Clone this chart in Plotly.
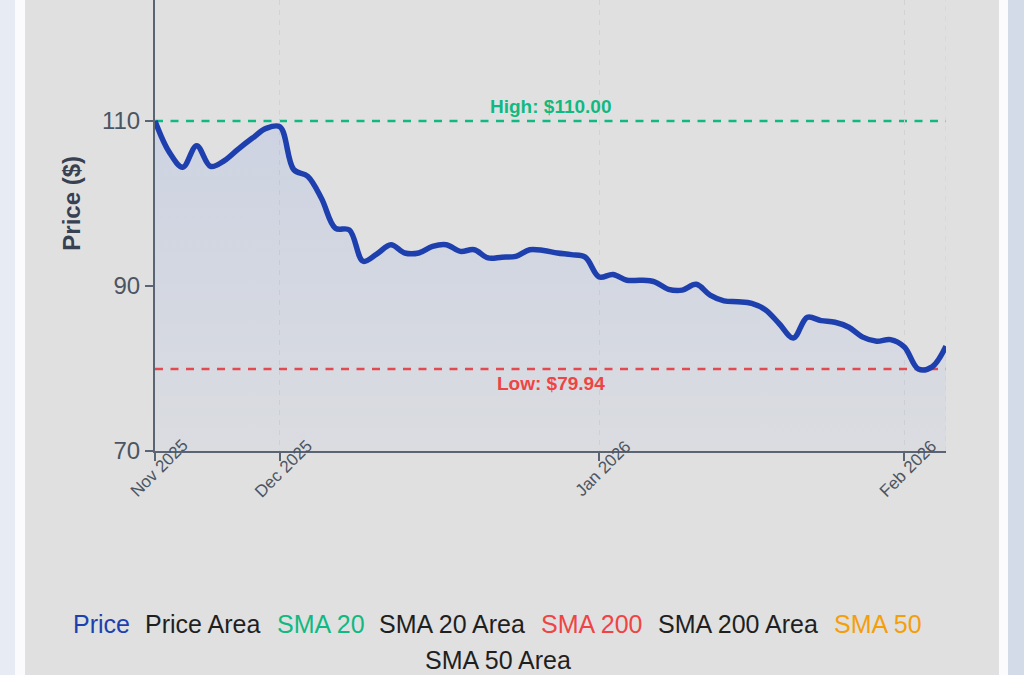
import pandas as pd
import plotly.graph_objects as go

# ---------------- data ----------------
dates = pd.bdate_range("2025-11-18", "2026-02-05")  # trading days (weekdays)
price = [
    110.00, 106.3, 104.4, 107.0, 104.5, 105.2, 106.6, 107.9, 109.1, 109.3,
    104.1, 103.3, 100.6, 97.0, 96.8, 93.0, 93.9, 95.0, 94.0, 94.0,
    94.8, 95.0, 94.2, 94.4, 93.4, 93.5, 93.6, 94.4, 94.3, 94.0,
    93.8, 93.5, 91.1, 91.4, 90.7, 90.7, 90.5, 89.6, 89.5, 90.2,
    88.9, 88.2, 88.1, 87.9, 87.1, 85.4, 83.7, 86.2, 85.8, 85.6,
    85.0, 83.8, 83.3, 83.5, 82.6, 79.94, 80.2, 82.7,
]
y_ticks = [70, 90, 110]
x_tick_dates = ["2025-11-18", "2025-12-01", "2026-01-01", "2026-02-02"]
x_tick_text = ["Nov 2025", "Dec 2025", "Jan 2026", "Feb 2026"]
legend_names = ["Price", "Price Area", "SMA 20", "SMA 20 Area",
                "SMA 200", "SMA 200 Area", "SMA 50", "SMA 50 Area"]
legend_colors = ["#1e40af", "#1f1f1f", "#10b981", "#1f1f1f",
                 "#ef4444", "#1f1f1f", "#f59e0b", "#1f1f1f"]
y_title = "Price ($)"

high_val = max(price)
low_val = min(price)

# ---------------- layout geometry ----------------
W, H = 1024, 675
ML, MR, MT, MB = 155, 78, 0, 224
PW = W - ML - MR
PH = H - MT - MB


def px_x(px):
    return (px - ML) / PW


def px_y(py):
    return (MT + PH - py) / PH


FONT = "Liberation Sans, Arial, sans-serif"
AXIS_COLOR = "#5b6472"
TICK_TEXT = "#4b5563"
GRID = "#d3d3d3"

fig = go.Figure()

fig.add_trace(go.Scatter(
    x=dates, y=price, mode="lines", name="Price Area",
    line=dict(width=0, shape="spline"),
    fill="tozeroy",
    fillgradient=dict(type="vertical",
                      colorscale=[[0, "rgba(97,137,237,0.045)"],
                                  [1, "rgba(97,137,237,0.15)"]],
                      start=70, stop=110),
    showlegend=False, hoverinfo="skip",
))
fig.add_trace(go.Scatter(
    x=dates, y=price, mode="lines", name="Price",
    line=dict(color="#1e40af", width=5.5, shape="spline"),
    showlegend=False,
))

shapes = []
# page background strips
for x0, x1, col in [(-5, 15, "#e6ebf4"), (15, 25, "#fbfbfd"),
                    (999, 1008, "#fbfbfd"), (1008, 1030, "#d3dae8")]:
    shapes.append(dict(type="rect", xref="paper", yref="paper",
                       x0=px_x(x0), x1=px_x(x1), y0=px_y(H + 5), y1=px_y(-5),
                       fillcolor=col, line=dict(width=0), layer="below"))
# high / low reference lines
shapes.append(dict(type="line", xref="paper", yref="y", x0=0, x1=1,
                   y0=high_val, y1=high_val, layer="below",
                   line=dict(color="#10b981", width=2.5, dash="8px,7.5px")))
shapes.append(dict(type="line", xref="paper", yref="y", x0=0, x1=1,
                   y0=low_val, y1=low_val, layer="below",
                   line=dict(color="#ef4444", width=2.5, dash="8px,7.5px")))
# right edge grid line
shapes.append(dict(type="line", xref="x", yref="paper",
                   x0=dates[-1], x1=dates[-1], y0=0, y1=1, layer="below",
                   line=dict(color=GRID, width=1, dash="5px,5px")))

annotations = []
annotations.append(dict(xref="paper", yref="y", x=0.5, y=high_val, yshift=15,
                        text=f"<b>High: ${high_val:.2f}</b>", showarrow=False,
                        xanchor="center", yanchor="middle",
                        font=dict(family=FONT, size=19, color="#10b981")))
annotations.append(dict(xref="paper", yref="y", x=0.5, y=low_val, yshift=-14,
                        text=f"<b>Low: ${low_val:.2f}</b>", showarrow=False,
                        xanchor="center", yanchor="middle",
                        font=dict(family=FONT, size=19, color="#ef4444")))
annotations.append(dict(xref="paper", yref="paper", x=px_x(71.7), y=px_y(203),
                        text=f"<b>{y_title}</b>", showarrow=False, textangle=-90,
                        xanchor="center", yanchor="middle",
                        font=dict(family=FONT, size=24, color="#374151")))
for d, t in zip(x_tick_dates, x_tick_text):
    annotations.append(dict(xref="x", yref="paper", x=d, y=px_y(468.5), xshift=4,
                            text=t, showarrow=False, textangle=-45,
                            xanchor="center", yanchor="middle",
                            font=dict(family=FONT, size=17, color=TICK_TEXT)))

legend_pos = [(70.5, 623.5), (142.5, 623.5), (274.5, 623.5), (377, 623.5),
              (539, 623.5), (656, 623.5), (831.5, 623.5), (422.5, 660)]
for name, col, (lx, ly) in zip(legend_names, legend_colors, legend_pos):
    annotations.append(dict(xref="paper", yref="paper", x=px_x(lx), y=px_y(ly),
                            text=name, showarrow=False,
                            xanchor="left", yanchor="middle",
                            font=dict(family=FONT, size=25, color=col)))

fig.update_layout(
    width=W, height=H,
    margin=dict(l=ML, r=MR, t=MT, b=MB, pad=0),
    paper_bgcolor="#e0e0e0", plot_bgcolor="#e0e0e0",
    showlegend=False,
    font=dict(family=FONT),
    shapes=shapes, annotations=annotations,
    xaxis=dict(
        type="date",
        range=[dates[0], dates[-1]],
        rangebreaks=[dict(bounds=["sat", "mon"])],
        tickvals=x_tick_dates, showticklabels=False,
        ticks="outside", ticklen=8, tickwidth=1.5, tickcolor=AXIS_COLOR,
        showline=True, linecolor=AXIS_COLOR, linewidth=2,
        showgrid=True, gridcolor=GRID, gridwidth=1, griddash="5px,5px",
        zeroline=False,
    ),
    yaxis=dict(
        range=[70, 70 + PH / 8.25],
        tickvals=y_ticks,
        ticks="outside", ticklen=8, tickwidth=1.5, tickcolor=AXIS_COLOR,
        tickfont=dict(family=FONT, size=24, color=TICK_TEXT),
        showline=True, linecolor=AXIS_COLOR, linewidth=2,
        showgrid=False, zeroline=False,
    ),
)

fig.write_html("out.html")
